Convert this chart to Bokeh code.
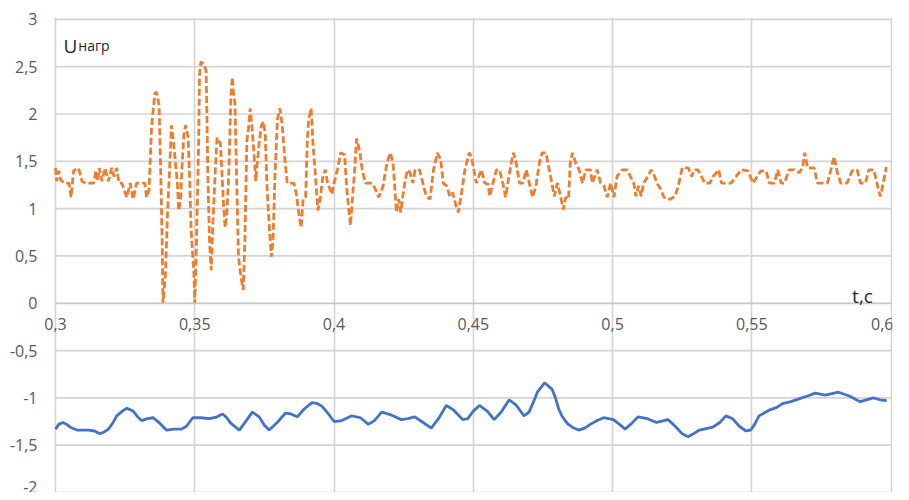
from bokeh.plotting import figure
from bokeh.models import FixedTicker, Label, Range1d, Grid, LinearAxis
from bokeh.embed import file_html
from bokeh.resources import INLINE

# ---- data ----
x_ticks = [0.3, 0.35, 0.4, 0.45, 0.5, 0.55, 0.6]
x_tick_labels = ["0,3", "0,35", "0,4", "0,45", "0,5", "0,55", "0,6"]
y_ticks = [-2, -1.5, -1, -0.5, 0, 0.5, 1, 1.5, 2, 2.5, 3]
y_tick_labels = ["-2", "-1,5", "-1", "-0,5", "0", "0,5", "1", "1,5", "2", "2,5", "3"]

u_load_t = [
    0.3000, 0.3004, 0.3012, 0.3018, 0.3030, 0.3048, 0.3056, 0.3065, 0.3083, 0.3095,
    0.3107, 0.3137, 0.3145, 0.3151, 0.3157, 0.3167, 0.3178, 0.3190, 0.3202, 0.3210,
    0.3220, 0.3228, 0.3238, 0.3256, 0.3268, 0.3279, 0.3291, 0.3297, 0.3321, 0.3327,
    0.3336, 0.3345, 0.3357, 0.3363, 0.3372, 0.3378, 0.3383, 0.3386, 0.3395, 0.3402,
    0.3410, 0.3416, 0.3422, 0.3428, 0.3438, 0.3442, 0.3449, 0.3454, 0.3461, 0.3467,
    0.3476, 0.3482, 0.3487, 0.3497, 0.3500, 0.3505, 0.3514, 0.3517, 0.3522, 0.3533,
    0.3541, 0.3547, 0.3553, 0.3559, 0.3565, 0.3573, 0.3580, 0.3592, 0.3598, 0.3604,
    0.3609, 0.3615, 0.3622, 0.3630, 0.3635, 0.3640, 0.3644, 0.3650, 0.3657, 0.3666,
    0.3674, 0.3680, 0.3687, 0.3693, 0.3699, 0.3705, 0.3713, 0.3719, 0.3725, 0.3732,
    0.3739, 0.3747, 0.3753, 0.3759, 0.3767, 0.3775, 0.3781, 0.3788, 0.3797, 0.3806,
    0.3814, 0.3823, 0.3832, 0.3856, 0.3865, 0.3874, 0.3882, 0.3889, 0.3898, 0.3904,
    0.3909, 0.3918, 0.3924, 0.3933, 0.3942, 0.3949, 0.3961, 0.3969, 0.3977, 0.3993,
    0.3999, 0.4000, 0.4012, 0.4024, 0.4038, 0.4045, 0.4054, 0.4059, 0.4065, 0.4074,
    0.4081, 0.4086, 0.4093, 0.4101, 0.4113, 0.4137, 0.4149, 0.4161, 0.4176, 0.4190,
    0.4202, 0.4212, 0.4218, 0.4224, 0.4232, 0.4240, 0.4247, 0.4256, 0.4264, 0.4273,
    0.4283, 0.4291, 0.4307, 0.4319, 0.4331, 0.4345, 0.4357, 0.4371, 0.4383, 0.4392,
    0.4404, 0.4416, 0.4426, 0.4438, 0.4446, 0.4458, 0.4470, 0.4485, 0.4493, 0.4502,
    0.4511, 0.4529, 0.4541, 0.4553, 0.4559, 0.4568, 0.4583, 0.4594, 0.4606, 0.4616,
    0.4624, 0.4636, 0.4644, 0.4654, 0.4666, 0.4678, 0.4690, 0.4701, 0.4713, 0.4725,
    0.4737, 0.4747, 0.4761, 0.4770, 0.4782, 0.4791, 0.4802, 0.4814, 0.4823, 0.4832,
    0.4842, 0.4848, 0.4856, 0.4868, 0.4880, 0.4892, 0.4904, 0.4921, 0.4927, 0.4945,
    0.4957, 0.4969, 0.4981, 0.4993, 0.5005, 0.5016, 0.5034, 0.5052, 0.5064, 0.5076,
    0.5084, 0.5093, 0.5103, 0.5111, 0.5127, 0.5139, 0.5151, 0.5159, 0.5174, 0.5183,
    0.5191, 0.5206, 0.5224, 0.5236, 0.5250, 0.5272, 0.5284, 0.5293, 0.5307, 0.5319,
    0.5331, 0.5349, 0.5361, 0.5373, 0.5381, 0.5391, 0.5426, 0.5444, 0.5462, 0.5486,
    0.5504, 0.5533, 0.5551, 0.5563, 0.5581, 0.5593, 0.5605, 0.5617, 0.5634, 0.5652,
    0.5670, 0.5682, 0.5690, 0.5700, 0.5724, 0.5735, 0.5771, 0.5783, 0.5795, 0.5807,
    0.5819, 0.5842, 0.5860, 0.5878, 0.5890, 0.5908, 0.5920, 0.5938, 0.5949, 0.5961,
    0.5967, 0.5979, 0.5983,
]
u_load = [
    1.43, 1.29, 1.40, 1.31, 1.27, 1.27, 1.12, 1.40, 1.43, 1.29,
    1.27, 1.27, 1.40, 1.29, 1.43, 1.29, 1.43, 1.29, 1.43, 1.34,
    1.43, 1.27, 1.27, 1.12, 1.27, 1.10, 1.27, 1.27, 1.27, 1.12,
    1.20, 1.87, 2.22, 2.23, 2.09, 1.36, 0.66, 0.00, 0.31, 0.94,
    1.43, 1.88, 1.75, 1.57, 1.26, 0.98, 1.08, 1.43, 1.78, 1.88,
    1.76, 1.29, 0.77, 0.31, 0.00, 0.49, 1.71, 2.41, 2.55, 2.53,
    2.45, 1.36, 0.66, 0.35, 0.84, 1.36, 1.75, 1.69, 1.36, 1.01,
    0.80, 0.94, 1.36, 2.19, 2.39, 2.19, 2.13, 1.36, 0.49, 0.28,
    0.14, 0.66, 1.71, 1.85, 2.06, 1.88, 1.57, 1.29, 1.50, 1.71,
    1.88, 1.92, 1.78, 1.26, 0.84, 0.49, 0.66, 1.36, 1.95, 2.06,
    1.88, 1.54, 1.27, 1.27, 1.15, 0.94, 0.80, 1.10, 1.12, 1.71,
    1.95, 2.06, 1.71, 1.36, 0.98, 1.08, 1.36, 1.41, 1.27, 1.15,
    1.27, 1.27, 1.41, 1.59, 1.57, 1.24, 0.96, 0.82, 1.06, 1.41,
    1.74, 1.69, 1.59, 1.41, 1.27, 1.27, 1.20, 1.12, 1.24, 1.48,
    1.59, 1.48, 1.24, 0.96, 1.10, 0.96, 1.13, 1.31, 1.41, 1.38,
    1.27, 1.41, 1.41, 1.27, 1.13, 1.10, 1.41, 1.59, 1.52, 1.27,
    1.24, 1.13, 1.17, 1.03, 0.96, 1.17, 1.41, 1.59, 1.55, 1.41,
    1.27, 1.41, 1.27, 1.26, 1.13, 1.24, 1.41, 1.41, 1.27, 1.12,
    1.27, 1.48, 1.59, 1.48, 1.27, 1.27, 1.41, 1.27, 1.12, 1.24,
    1.48, 1.59, 1.59, 1.45, 1.27, 1.13, 1.27, 1.12, 0.99, 1.12,
    1.10, 1.48, 1.59, 1.48, 1.41, 1.27, 1.41, 1.41, 1.27, 1.41,
    1.27, 1.24, 1.12, 1.27, 1.12, 1.34, 1.41, 1.41, 1.34, 1.27,
    1.13, 1.24, 1.13, 1.27, 1.34, 1.41, 1.34, 1.27, 1.20, 1.13,
    1.10, 1.10, 1.13, 1.24, 1.43, 1.43, 1.34, 1.41, 1.41, 1.34,
    1.27, 1.27, 1.34, 1.38, 1.41, 1.27, 1.27, 1.34, 1.41, 1.40,
    1.27, 1.40, 1.40, 1.27, 1.27, 1.41, 1.27, 1.27, 1.41, 1.41,
    1.38, 1.43, 1.59, 1.43, 1.43, 1.27, 1.27, 1.40, 1.55, 1.38,
    1.27, 1.27, 1.40, 1.41, 1.27, 1.27, 1.41, 1.41, 1.27, 1.13,
    1.20, 1.38, 1.44,
]

u_other_t = [
    0.3000, 0.3012, 0.3027, 0.3040, 0.3053, 0.3077, 0.3100, 0.3119, 0.3140, 0.3160,
    0.3175, 0.3190, 0.3205, 0.3220, 0.3240, 0.3256, 0.3279, 0.3295, 0.3309, 0.3330,
    0.3351, 0.3375, 0.3398, 0.3425, 0.3452, 0.3470, 0.3493, 0.3520, 0.3553, 0.3580,
    0.3600, 0.3615, 0.3630, 0.3660, 0.3685, 0.3707, 0.3731, 0.3750, 0.3767, 0.3796,
    0.3826, 0.3845, 0.3868, 0.3892, 0.3921, 0.3940, 0.3957, 0.3980, 0.4000, 0.4028,
    0.4064, 0.4095, 0.4123, 0.4145, 0.4171, 0.4205, 0.4242, 0.4265, 0.4290, 0.4320,
    0.4349, 0.4375, 0.4403, 0.4430, 0.4462, 0.4480, 0.4500, 0.4522, 0.4550, 0.4575,
    0.4600, 0.4629, 0.4655, 0.4682, 0.4700, 0.4715, 0.4730, 0.4756, 0.4783, 0.4795,
    0.4807, 0.4820, 0.4837, 0.4855, 0.4878, 0.4900, 0.4920, 0.4945, 0.4968, 0.5003,
    0.5025, 0.5045, 0.5068, 0.5092, 0.5125, 0.5158, 0.5199, 0.5225, 0.5250, 0.5271,
    0.5290, 0.5312, 0.5360, 0.5385, 0.5407, 0.5431, 0.5455, 0.5479, 0.5496, 0.5510,
    0.5526, 0.5562, 0.5590, 0.5610, 0.5640, 0.5669, 0.5700, 0.5728, 0.5764, 0.5811,
    0.5850, 0.5889, 0.5936, 0.5960, 0.5984,
]
u_other = [
    -1.33, -1.28, -1.26, -1.28, -1.31, -1.34, -1.34, -1.34, -1.35, -1.38,
    -1.36, -1.33, -1.27, -1.19, -1.14, -1.11, -1.14, -1.20, -1.24, -1.22,
    -1.21, -1.27, -1.34, -1.33, -1.33, -1.30, -1.21, -1.21, -1.22, -1.20,
    -1.17, -1.21, -1.27, -1.34, -1.24, -1.15, -1.20, -1.29, -1.34, -1.26,
    -1.16, -1.17, -1.20, -1.12, -1.05, -1.06, -1.09, -1.17, -1.25, -1.24,
    -1.19, -1.21, -1.28, -1.24, -1.15, -1.18, -1.23, -1.22, -1.20, -1.26,
    -1.32, -1.22, -1.08, -1.13, -1.23, -1.22, -1.14, -1.08, -1.14, -1.23,
    -1.15, -1.02, -1.08, -1.19, -1.15, -1.05, -0.94, -0.84, -0.91, -1.00,
    -1.12, -1.20, -1.27, -1.31, -1.34, -1.32, -1.28, -1.24, -1.21, -1.23,
    -1.28, -1.33, -1.27, -1.20, -1.22, -1.26, -1.23, -1.30, -1.38, -1.41,
    -1.38, -1.34, -1.31, -1.26, -1.19, -1.22, -1.30, -1.35, -1.34, -1.28,
    -1.19, -1.13, -1.10, -1.06, -1.04, -1.01, -0.98, -0.95, -0.97, -0.94,
    -0.98, -1.04, -1.00, -1.02, -1.03,
]

# ---- figure ----
FONT = "Open Sans"
GRID = "#d4d4d4"

# frame extends a little left of t = 0.3 so that the "0,3" label is not cut
p = figure(width=893, height=492,
           x_range=Range1d(0.2957, 0.6005), y_range=Range1d(-2, 3.02),
           x_axis_location=None, y_axis_location="left",
           output_backend="svg", toolbar_location=None,
           min_border_left=43, min_border_right=1,
           min_border_top=17, min_border_bottom=0)
p.center = []
p.outline_line_color = None
p.background_fill_color = "white"
p.border_fill_color = "white"

# vertical grid lines
p.add_layout(Grid(dimension=0, ticker=FixedTicker(ticks=x_ticks),
                  grid_line_color=GRID, grid_line_width=1.6))
# horizontal grid lines as thin filled bands, spanning only t = 0.3 .. 0.6
p.hbar(y=y_ticks, left=x_ticks[0], right=x_ticks[-1], height=0.018,
       fill_color=GRID, line_color=None)

# x axis crossing at U = 0
xax = LinearAxis(fixed_location=0, ticker=FixedTicker(ticks=x_ticks),
                 bounds=(0.3, 0.6),
                 major_label_overrides={float(v): s for v, s in zip(x_ticks, x_tick_labels)})
xax.axis_line_color = "#c8c8c8"
xax.axis_line_width = 1.6
xax.major_tick_line_color = None
xax.minor_tick_line_color = None
xax.major_tick_out = 0
xax.major_tick_in = 0
xax.major_label_standoff = 15
xax.major_label_text_color = "#595959"
xax.major_label_text_font = FONT
xax.major_label_text_font_size = "16px"
p.add_layout(xax, "below")

ax = p.yaxis[0]
ax.ticker = FixedTicker(ticks=y_ticks)
ax.major_label_overrides = {float(v): s for v, s in zip(y_ticks, y_tick_labels)}
ax.axis_line_color = None
ax.major_tick_line_color = None
ax.minor_tick_line_color = None
ax.major_tick_out = 0
ax.major_tick_in = 0
ax.major_label_standoff = 6
ax.major_label_text_color = "#595959"
ax.major_label_text_font = FONT
ax.major_label_text_font_size = "16px"

p.line(u_other_t, u_other, line_color="#4472C4", line_width=2.8)
p.line(u_load_t, u_load, line_color="#ED7D31", line_width=2.8, line_dash="7 3")

p.add_layout(Label(x=0.3029, y=2.72, text="U", text_baseline="alphabetic",
                   text_font=FONT, text_font_size="19px", text_color="#262626"))
p.add_layout(Label(x=0.3082, y=2.72, text="нагр", text_baseline="alphabetic",
                   text_font=FONT, text_font_size="14px", text_color="#262626"))
p.add_layout(Label(x=0.5860, y=0.073, text="t,с", text_baseline="alphabetic",
                   text_font=FONT, text_font_size="19px", text_color="#262626"))

open("out.html", "w").write(file_html(p, INLINE))
